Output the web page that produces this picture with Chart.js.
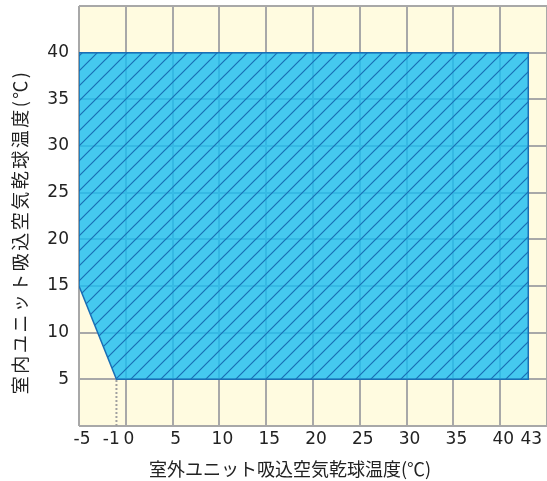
<!DOCTYPE html>
<html>
<head>
<meta charset="utf-8">
<script src="https://cdn.jsdelivr.net/npm/chart.js"></script>
<style>
  html, body { margin: 0; padding: 0; background: #fff; }
  #wrap { width: 547px; height: 481px; }
</style>
</head>
<body>
<div id="wrap"><canvas id="rangeChart"></canvas></div>
<script>
// operating range, outdoor temp (x) vs indoor temp (y)
const rangeX = [-5, -5, 43, 43, -1, -5];
const rangeY = [15, 40, 40, 5, 5, 15];
const dotX = [-1, -1];
const dotY = [0, 5];
const xTicks = [-5, -1, 0, 5, 10, 15, 20, 25, 30, 35, 40, 43, 45];
const yTicks = [0, 5, 10, 15, 20, 25, 30, 35, 40, 45];
const xNoGrid = [-1, 43];
const xHideLabel = [45];
const yHideLabel = [0, 45];
const xTitle = '室外ユニット吸込空気乾球温度(℃)';
const yTitle = '室内ユニット吸込空気乾球温度(℃)';

const toPts = (xs, ys) => xs.map((x, i) => ({ x: x, y: ys[i] }));

// hatch pattern
function makeHatch() {
  const s = 15;
  const c = document.createElement('canvas');
  c.width = s; c.height = s;
  const g = c.getContext('2d');
  g.fillStyle = 'rgba(28,189,241,0.82)';
  g.fillRect(0, 0, s, s);
  g.strokeStyle = '#1a6fb5';
  g.lineWidth = 1.2;
  g.beginPath();
  g.moveTo(-2, s + 2); g.lineTo(s + 2, -2);
  g.moveTo(-2, 2); g.lineTo(2, -2);
  g.moveTo(s - 2, s + 2); g.lineTo(s + 2, s - 2);
  g.stroke();
  return g.createPattern(c, 'repeat');
}

const titles = {
  id: 'titles',
  afterDraw(chart) {
    const ctx = chart.ctx;
    ctx.save();
    ctx.fillStyle = '#222';
    ctx.font = '18px "Noto Sans CJK JP"';
    ctx.textAlign = 'center';
    ctx.textBaseline = 'middle';
    ctx.fillText(xTitle, 290, 469);
    ctx.translate(20, 232);
    ctx.rotate(-Math.PI / 2);
    ctx.letterSpacing = '2.5px';
    ctx.fillText(yTitle, 0, 0);
    ctx.restore();
  }
};

const bg = {
  id: 'bg',
  beforeDraw(chart) {
    const a = chart.chartArea, ctx = chart.ctx;
    ctx.save();
    ctx.fillStyle = '#fffbe0';
    ctx.fillRect(a.left, a.top, a.right - a.left, a.bottom - a.top);
    ctx.restore();
  }
};

const ctx = document.getElementById('rangeChart').getContext('2d');
const chart = new Chart(ctx, {
  type: 'scatter',
  data: {
    datasets: [{
      data: toPts(rangeX, rangeY),
      showLine: true,
      fill: 'shape',
      backgroundColor: makeHatch(),
      borderColor: '#1a6fb5',
      borderWidth: 1.5,
      pointRadius: 0,
      tension: 0
    }, {
      data: toPts(dotX, dotY),
      showLine: true,
      fill: false,
      borderColor: '#a0a0a0',
      borderWidth: 2,
      borderDash: [2, 2],
      pointRadius: 0
    }]
  },
  options: {
    responsive: true,
    maintainAspectRatio: false,
    animation: false,
    layout: { padding: { top: 6, right: 0, left: 0, bottom: 0 } },
    plugins: { legend: { display: false }, tooltip: { enabled: false } },
    scales: {
      x: {
        type: 'linear',
        min: -5, max: 45,
        afterBuildTicks: (s) => { s.ticks = xTicks.map(v => ({ value: v })); },
        afterFit: (s) => { s.height = 55; s.paddingRight = 0; },
        ticks: {
          autoSkip: false,
          maxRotation: 0,
          padding: 3,
          labelOffset: 3,
          color: '#222',
          font: { family: '"DejaVu Sans"', size: 17 },
          callback: (v) => xHideLabel.includes(v) ? '' : (v === -1 ? '-1   ' : String(v))
        },
        grid: {
          color: (c) => xNoGrid.includes(c.tick && c.tick.value) ? 'rgba(0,0,0,0)' : '#a8a8a8',
          lineWidth: 2,
          drawTicks: false
        },
        border: { display: false }
      },
      y: {
        type: 'linear',
        min: 0, max: 45,
        afterBuildTicks: (s) => { s.ticks = yTicks.map(v => ({ value: v })); },
        afterFit: (s) => { s.width = 79; s.paddingTop = 0; s.paddingBottom = 0; },
        ticks: {
          padding: 10,
          color: '#222',
          font: { family: '"DejaVu Sans"', size: 17 },
          callback: (v) => yHideLabel.includes(v) ? '' : String(v)
        },
        grid: { color: '#a8a8a8', lineWidth: 2, drawTicks: false },
        border: { display: false }
      }
    }
  },
  plugins: [bg, titles]
});
</script>
</body>
</html>
